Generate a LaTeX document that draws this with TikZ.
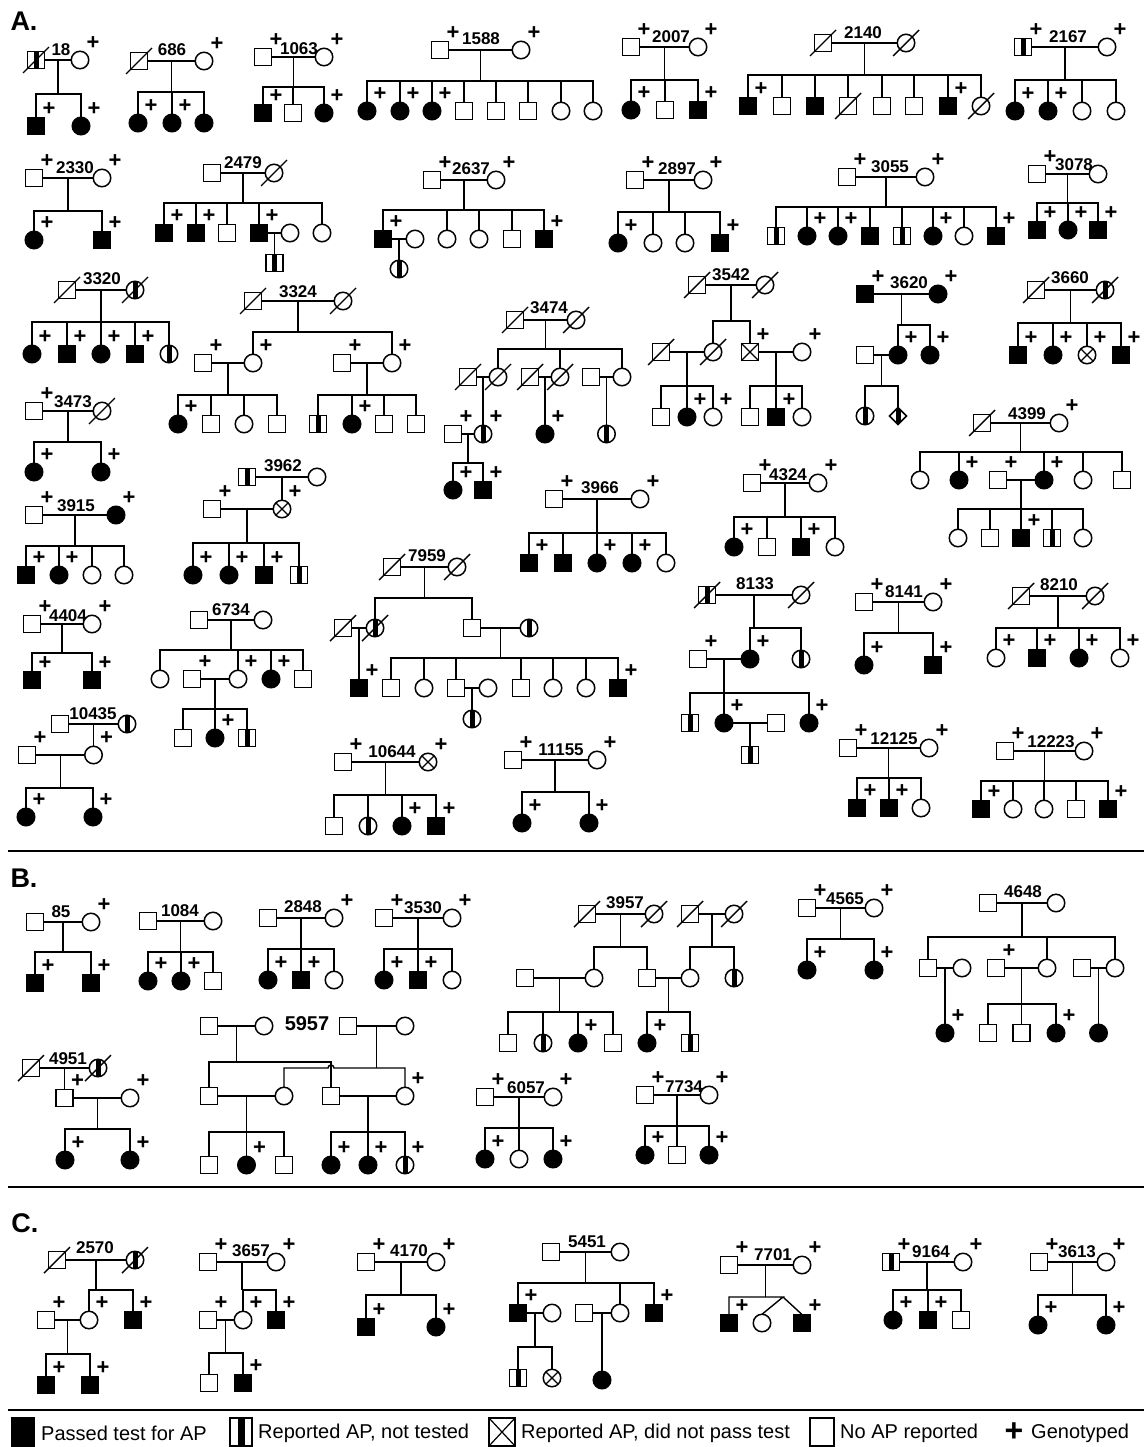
\documentclass[tikz,border=0pt]{standalone}
\usepackage{fontspec}
\setmainfont{Liberation Sans}
\usetikzlibrary{calc, shapes.geometric}

\newcommand\numfont{\fontsize{17}{17}\selectfont\bfseries}
\newcommand\plusfont{\fontsize{22}{22}\selectfont\bfseries}
\newcommand\keyfont{\fontsize{20}{20}\selectfont}

\tikzset{
  sym/.style={draw, line width=1.5pt, inner sep=0pt, outer sep=0pt},
  male/.style={sym, rectangle, minimum size=17pt},
  fem/.style={sym, circle, minimum size=17.5pt},
  dia/.style={sym, diamond, minimum size=17pt},
  aff/.style={fill=black},
  repw/.style={path picture={\fill ([xshift=-#1]path picture bounding box.north) rectangle ([xshift=#1]path picture bounding box.south);}},
  rep/.style={repw=2.5pt},
  cross/.style={path picture={\draw[line width=1.2pt] (path picture bounding box.north west) -- (path picture bounding box.south east) (path picture bounding box.north east) -- (path picture bounding box.south west);}},
  gt/.style={append after command={node[pl] at ([shift={(13pt,17pt)}]\tikzlastnode.center) {+}}},
  pl/.style={font=\plusfont, inner sep=0pt},
  lab/.style={font=\numfont, inner sep=0pt},
  sec/.style={font=\fontsize{27}{27}\selectfont\bfseries, inner sep=0pt},
  keytext/.style={font=\keyfont, anchor=west, inner sep=0pt},
  ln/.style={line width=1.4pt, black},
  dl/.style={line width=1.4pt},
  sep/.style={line width=1.8pt},
}
\newcommand\dead[1]{\draw[dl] (#1.center) ++(-13pt,-13pt) -- ++(26pt,26pt);}
\newcommand\couple[2]{\draw[ln] (#1) -- (#2);}
\newcommand\sibs[3]{%
  \coordinate (tp) at (#1);
  \coordinate (sb) at (0,#2);
  \draw[ln] (tp) -- (tp |- sb);
  \foreach \k in {#3} {\draw[ln] (\k.north) |- (tp |- sb);}}
\newcommand\kin[4]{\couple{#1}{#2}\sibs{$(#1)!.5!(#2)$}{#3}{#4}}

\begin{document}
\begin{tikzpicture}[x=1pt, y=-1pt]
\useasboundingbox (0,0) rectangle (1144,1447);
\fill[white] (0,0) rectangle (1144,1447);

% ================= A =================
\node[sec] (secA) at (24,21) {A.};

% 18
\node[male,rep] (f18) at (36,60) {}; \dead{f18}
\node[fem,gt] (m18) at (80,60) {};
\node[lab] (l18) at (61,50) {18};
\node[male,aff,gt] (c18a) at (36,126) {};
\node[fem,aff,gt] (c18b) at (81,126) {};
\kin{f18}{m18}{94}{c18a,c18b}

% 686
\node[male] (f686) at (139,61) {}; \dead{f686}
\node[fem,gt] (m686) at (204,61) {};
\node[lab] (l686) at (172,50) {686};
\node[fem,aff,gt] (c686a) at (138,123) {};
\node[fem,aff,gt] (c686b) at (172,123) {};
\node[fem,aff] (c686c) at (204,123) {};
\kin{f686}{m686}{92}{c686a,c686b,c686c}

% 1063
\node[male,gt] (f1063) at (263,57) {};
\node[fem,gt] (m1063) at (324,57) {};
\node[lab] (l1063) at (299,49) {1063};
\node[male,aff,gt] (c1063a) at (263,113) {};
\node[male] (c1063b) at (293,113) {};
\node[fem,aff,gt] (c1063c) at (324,113) {};
\kin{f1063}{m1063}{87}{c1063a,c1063b,c1063c}

% 1588
\node[male,gt] (f1588) at (440,50) {};
\node[fem,gt] (m1588) at (521,50) {};
\node[lab] (l1588) at (481,39) {1588};
\node[fem,aff,gt] (c1588a) at (367,111) {};
\node[fem,aff,gt] (c1588b) at (400,111) {};
\node[fem,aff,gt] (c1588c) at (432,111) {};
\node[male] (c1588d) at (464,111) {};
\node[male] (c1588e) at (496,111) {};
\node[male] (c1588f) at (528,111) {};
\node[fem] (c1588g) at (561,111) {};
\node[fem] (c1588h) at (593,111) {};
\kin{f1588}{m1588}{81}{c1588a,c1588b,c1588c,c1588d,c1588e,c1588f,c1588g,c1588h}

% 2007
\node[male,gt] (f2007) at (631,47) {};
\node[fem,gt] (m2007) at (698,47) {};
\node[lab] (l2007) at (671,37) {2007};
\node[fem,aff,gt] (c2007a) at (631,110) {};
\node[male] (c2007b) at (665,110) {};
\node[male,aff,gt] (c2007c) at (698,110) {};
\kin{f2007}{m2007}{80}{c2007a,c2007b,c2007c}

% 2140
\node[male] (f2140) at (823,43) {}; \dead{f2140}
\node[fem] (m2140) at (906,43) {}; \dead{m2140}
\node[lab] (l2140) at (863,33) {2140};
\node[male,aff,gt] (c2140a) at (748,106) {};
\node[male] (c2140b) at (782,106) {};
\node[male,aff] (c2140c) at (815,106) {};
\node[male] (c2140d) at (848,106) {}; \dead{c2140d}
\node[male] (c2140e) at (882,106) {};
\node[male] (c2140f) at (914,106) {};
\node[male,aff,gt] (c2140g) at (948,106) {};
\node[fem] (c2140h) at (981,106) {}; \dead{c2140h}
\kin{f2140}{m2140}{75}{c2140a,c2140b,c2140c,c2140d,c2140e,c2140f,c2140g,c2140h}

% 2167
\node[male,rep,gt] (f2167) at (1023,47) {};
\node[fem,gt] (m2167) at (1107,47) {};
\node[lab] (l2167) at (1068,37) {2167};
\node[fem,aff,gt] (c2167a) at (1015,111) {};
\node[fem,aff,gt] (c2167b) at (1048,111) {};
\node[fem] (c2167c) at (1082,111) {};
\node[fem] (c2167d) at (1116,111) {};
\kin{f2167}{m2167}{80}{c2167a,c2167b,c2167c,c2167d}

% 2330
\node[male,gt] (f2330) at (34,178) {};
\node[fem,gt] (m2330) at (102,178) {};
\node[lab] (l2330) at (75,168) {2330};
\node[fem,aff,gt] (c2330a) at (34,240) {};
\node[male,aff,gt] (c2330b) at (102,240) {};
\kin{f2330}{m2330}{211}{c2330a,c2330b}

% 2479
\node[male] (f2479) at (212,173) {};
\node[fem] (m2479) at (274,173) {}; \dead{m2479}
\node[lab] (l2479) at (243,163) {2479};
\node[male,aff,gt] (c2479a) at (164,233) {};
\node[male,aff,gt] (c2479b) at (196,233) {};
\node[male] (c2479c) at (227,233) {};
\node[male,aff,gt] (c2479d) at (259,233) {};
\node[fem] (s2479) at (290,233) {};
\node[fem] (c2479e) at (322,233) {};
\node[male,rep] (g2479) at (274.5,263) {};
\kin{f2479}{m2479}{203}{c2479a,c2479b,c2479c,c2479d,c2479e}
\kin{c2479d}{s2479}{250}{g2479}

% 2637
\node[male,gt] (f2637) at (432,180) {};
\node[fem,gt] (m2637) at (496,180) {};
\node[lab] (l2637) at (471,169) {2637};
\node[male,aff,gt] (c2637a) at (383,239) {};
\node[fem] (s2637) at (415,239) {};
\node[fem] (c2637b) at (447,239) {};
\node[fem] (c2637c) at (479,239) {};
\node[male] (c2637d) at (512,239) {};
\node[male,aff,gt] (c2637e) at (544,239) {};
\node[fem,rep] (g2637) at (399,269) {};
\kin{f2637}{m2637}{210}{c2637a,c2637b,c2637c,c2637d,c2637e}
\kin{c2637a}{s2637}{255}{g2637}

% 2897
\node[male,gt] (f2897) at (635,180) {};
\node[fem,gt] (m2897) at (703,180) {};
\node[lab] (l2897) at (677,169) {2897};
\node[fem,aff,gt] (c2897a) at (618,243) {};
\node[fem] (c2897b) at (653,243) {};
\node[fem] (c2897c) at (685,243) {};
\node[male,aff,gt] (c2897d) at (720,243) {};
\kin{f2897}{m2897}{212}{c2897a,c2897b,c2897c,c2897d}

% 3055
\node[male,gt] (f3055) at (847,177) {};
\node[fem,gt] (m3055) at (925,177) {};
\node[lab] (l3055) at (890,167) {3055};
\node[male,rep] (c3055a) at (776,236) {};
\node[fem,aff,gt] (c3055b) at (807,236) {};
\node[fem,aff,gt] (c3055c) at (838,236) {};
\node[male,aff] (c3055d) at (870,236) {};
\node[male,rep] (c3055e) at (902,236) {};
\node[fem,aff,gt] (c3055f) at (933,236) {};
\node[fem] (c3055g) at (964,236) {};
\node[male,aff,gt] (c3055h) at (996,236) {};
\kin{f3055}{m3055}{207}{c3055a,c3055b,c3055c,c3055d,c3055e,c3055f,c3055g,c3055h}

% 3078
\node[male,gt] (f3078) at (1037,174) {};
\node[fem] (m3078) at (1098,174) {};
\node[lab] (l3078) at (1074,165) {3078};
\node[male,aff,gt] (c3078a) at (1037,230) {};
\node[fem,aff,gt] (c3078b) at (1068,230) {};
\node[male,aff,gt] (c3078c) at (1098,230) {};
\kin{f3078}{m3078}{203}{c3078a,c3078b,c3078c}

% 3320
\node[male] (f3320) at (67,290) {}; \dead{f3320}
\node[fem,rep] (m3320) at (135,290) {}; \dead{m3320}
\node[lab] (l3320) at (102,279) {3320};
\node[fem,aff,gt] (c3320a) at (32,354) {};
\node[male,aff,gt] (c3320b) at (67,354) {};
\node[fem,aff,gt] (c3320c) at (101,354) {};
\node[male,aff,gt] (c3320d) at (135,354) {};
\node[fem,rep] (c3320e) at (169,354) {};
\kin{f3320}{m3320}{322}{c3320a,c3320b,c3320c,c3320d,c3320e}

% 3324
\node[male] (f3324) at (253,301) {}; \dead{f3324}
\node[fem] (m3324) at (343,301) {}; \dead{m3324}
\node[lab] (l3324) at (298,292) {3324};
\node[fem,gt] (d3324a) at (253,363) {};
\node[fem,gt] (d3324b) at (392,363) {};
\node[male,gt] (h3324a) at (203,363) {};
\node[male,gt] (h3324b) at (342,363) {};
\node[fem,aff,gt] (c3324a) at (178,424) {};
\node[male] (c3324b) at (211,424) {};
\node[fem] (c3324c) at (244,424) {};
\node[male] (c3324d) at (277,424) {};
\node[male,rep] (c3324e) at (318,424) {};
\node[fem,aff,gt] (c3324f) at (352,424) {};
\node[male] (c3324g) at (384,424) {};
\node[male] (c3324h) at (416,424) {};
\kin{f3324}{m3324}{332}{d3324a,d3324b}
\kin{h3324a}{d3324a}{395}{c3324a,c3324b,c3324c,c3324d}
\kin{h3324b}{d3324b}{395}{c3324e,c3324f,c3324g,c3324h}

% 3474
\node[male] (f3474) at (515,320) {}; \dead{f3474}
\node[fem] (m3474) at (576,320) {}; \dead{m3474}
\node[lab] (l3474) at (549,308) {3474};
\node[male] (h3474a) at (468,377) {}; \dead{h3474a}
\node[fem] (w3474a) at (498,377) {}; \dead{w3474a}
\node[male] (h3474b) at (530,377) {}; \dead{h3474b}
\node[fem] (w3474b) at (560,377) {}; \dead{w3474b}
\node[male] (h3474c) at (591,377) {};
\node[fem] (w3474c) at (622,377) {};
\node[male,gt] (s3474) at (453,434) {};
\node[fem,rep,gt] (k3474a) at (483,434) {};
\node[fem,aff,gt] (k3474b) at (545,434) {};
\node[fem,rep] (k3474c) at (606.5,434) {};
\node[fem,aff,gt] (g3474a) at (453,490) {};
\node[male,aff,gt] (g3474b) at (483,490) {};
\kin{f3474}{m3474}{349}{w3474a,w3474b,w3474c}
\kin{h3474a}{w3474a}{410}{k3474a}
\kin{h3474b}{w3474b}{410}{k3474b}
\kin{h3474c}{w3474c}{410}{k3474c}
\kin{s3474}{k3474a}{463}{g3474a,g3474b}

% 3542
\node[male] (f3542) at (697,285) {}; \dead{f3542}
\node[fem] (m3542) at (765,285) {}; \dead{m3542}
\node[lab] (l3542) at (731,275) {3542};
\node[male] (h3542) at (661,352) {}; \dead{h3542}
\node[fem] (d3542) at (713,352) {}; \dead{d3542}
\node[male,cross,gt] (s3542) at (750,352) {};
\node[fem,gt] (w3542) at (802,352) {};
\node[male] (c3542a) at (661,417) {};
\node[fem,aff,gt] (c3542b) at (687,417) {};
\node[fem,gt] (c3542c) at (713,417) {};
\node[male] (c3542d) at (750,417) {};
\node[male,aff,gt] (c3542e) at (776,417) {};
\node[fem] (c3542f) at (802,417) {};
\kin{f3542}{m3542}{321}{d3542,s3542}
\kin{h3542}{d3542}{386}{c3542a,c3542b,c3542c}
\kin{s3542}{w3542}{386}{c3542d,c3542e,c3542f}

% 3620
\node[male,aff,gt] (f3620) at (865,294) {};
\node[fem,aff,gt] (m3620) at (938,294) {};
\node[lab] (l3620) at (909,283) {3620};
\node[male] (h3620) at (865,355) {};
\node[fem,aff,gt] (d3620a) at (898,355) {};
\node[fem,aff,gt] (d3620b) at (930,355) {};
\node[fem,rep] (c3620a) at (865,416) {};
\node[dia,rep] (c3620b) at (898,416) {};
\kin{f3620}{m3620}{325}{d3620a,d3620b}
\kin{h3620}{d3620a}{386}{c3620a,c3620b}

% 3660
\node[male] (f3660) at (1036,290) {}; \dead{f3660}
\node[fem,rep] (m3660) at (1105,290) {}; \dead{m3660}
\node[lab] (l3660) at (1070,278) {3660};
\node[male,aff,gt] (c3660a) at (1018,355) {};
\node[fem,aff,gt] (c3660b) at (1053,355) {};
\node[fem,cross,gt] (c3660c) at (1087,355) {};
\node[male,aff,gt] (c3660d) at (1121,355) {};
\kin{f3660}{m3660}{323}{c3660a,c3660b,c3660c,c3660d}

% 3473
\node[male,gt] (f3473) at (34,411) {};
\node[fem] (m3473) at (102,411) {}; \dead{m3473}
\node[lab] (l3473) at (73,402) {3473};
\node[fem,aff,gt] (c3473a) at (34,472) {};
\node[fem,aff,gt] (c3473b) at (101,472) {};
\kin{f3473}{m3473}{442}{c3473a,c3473b}

% 3915
\node[male,gt] (f3915) at (34,515) {};
\node[fem,aff,gt] (m3915) at (116,515) {};
\node[lab] (l3915) at (76,506) {3915};
\node[male,aff,gt] (c3915a) at (26,575) {};
\node[fem,aff,gt] (c3915b) at (59,575) {};
\node[fem] (c3915c) at (92,575) {};
\node[fem] (c3915d) at (124,575) {};
\kin{f3915}{m3915}{546}{c3915a,c3915b,c3915c,c3915d}

% 3962
\node[male,rep] (f3962) at (247,477) {};
\node[fem] (m3962) at (317,477) {};
\node[lab] (l3962) at (283,466) {3962};
\node[male,gt] (h3962) at (212,509) {};
\node[fem,cross,gt] (d3962) at (282,509) {};
\node[fem,aff,gt] (c3962a) at (193,575) {};
\node[fem,aff,gt] (c3962b) at (229,575) {};
\node[male,aff,gt] (c3962c) at (264,575) {};
\node[male,rep] (c3962d) at (299,575) {};
\kin{f3962}{m3962}{495}{d3962}
\kin{h3962}{d3962}{543}{c3962a,c3962b,c3962c,c3962d}

% 3966
\node[male,gt] (f3966) at (554,499) {};
\node[fem,gt] (m3966) at (640,499) {};
\node[lab] (l3966) at (600,488) {3966};
\node[male,aff,gt] (c3966a) at (529,563) {};
\node[male,aff] (c3966b) at (563,563) {};
\node[fem,aff,gt] (c3966c) at (597,563) {};
\node[fem,aff,gt] (c3966d) at (632,563) {};
\node[fem] (c3966e) at (666,563) {};
\kin{f3966}{m3966}{533}{c3966a,c3966b,c3966c,c3966d,c3966e}

% 4324
\node[male,gt] (f4324) at (752,483) {};
\node[fem,gt] (m4324) at (818,483) {};
\node[lab] (l4324) at (788,475) {4324};
\node[fem,aff,gt] (c4324a) at (734,547) {};
\node[male] (c4324b) at (767,547) {};
\node[male,aff,gt] (c4324c) at (801,547) {};
\node[fem] (c4324d) at (835,547) {};
\kin{f4324}{m4324}{517}{c4324a,c4324b,c4324c,c4324d}

% 4399
\node[male] (f4399) at (982,423) {}; \dead{f4399}
\node[fem,gt] (m4399) at (1059,423) {};
\node[lab] (l4399) at (1027,414) {4399};
\node[fem] (c4399a) at (920,480) {};
\node[fem,aff,gt] (c4399b) at (959,480) {};
\node[male,gt] (s4399) at (998,480) {};
\node[fem,aff,gt] (c4399c) at (1044,480) {};
\node[fem] (c4399d) at (1083,480) {};
\node[male] (c4399e) at (1122,480) {};
\node[fem] (g4399a) at (958,538) {};
\node[male] (g4399b) at (990,538) {};
\node[male,aff,gt] (g4399c) at (1021,538) {};
\node[male,rep] (g4399d) at (1052,538) {};
\node[fem] (g4399e) at (1083,538) {};
\kin{f4399}{m4399}{452}{c4399a,c4399b,c4399c,c4399d,c4399e}
\kin{s4399}{c4399c}{509}{g4399a,g4399b,g4399c,g4399d,g4399e}

% 4404
\node[male,gt] (f4404) at (32,624) {};
\node[fem,gt] (m4404) at (92,624) {};
\node[lab] (l4404) at (68,616) {4404};
\node[male,aff,gt] (c4404a) at (32,680) {};
\node[male,aff,gt] (c4404b) at (92,680) {};
\kin{f4404}{m4404}{653}{c4404a,c4404b}

% 6734
\node[male] (f6734) at (199,620) {};
\node[fem] (m6734) at (263,620) {};
\node[lab] (l6734) at (231,610) {6734};
\node[fem] (c6734a) at (160,679) {};
\node[male,gt] (s6734) at (192,679) {};
\node[fem,gt] (c6734b) at (238,679) {};
\node[fem,aff,gt] (c6734c) at (271,679) {};
\node[male] (c6734d) at (303,679) {};
\node[male] (g6734a) at (183,738) {};
\node[fem,aff,gt] (g6734b) at (215,738) {};
\node[male,rep] (g6734c) at (247,738) {};
\kin{f6734}{m6734}{650}{c6734a,c6734b,c6734c,c6734d}
\kin{s6734}{c6734b}{709}{g6734a,g6734b,g6734c}

% 10435
\node[male] (f10435) at (60,724) {};
\node[fem,rep] (m10435) at (127,724) {};
\node[lab] (l10435) at (93,714) {10435};
\node[male,gt] (h10435) at (27,755) {};
\node[fem,gt] (d10435) at (93.5,755) {};
\node[fem,aff,gt] (c10435a) at (26,817) {};
\node[fem,aff,gt] (c10435b) at (93,817) {};
\kin{f10435}{m10435}{740}{d10435}
\kin{h10435}{d10435}{788}{c10435a,c10435b}

% 7959
\node[male] (f7959) at (392,567) {}; \dead{f7959}
\node[fem] (m7959) at (457,567) {}; \dead{m7959}
\node[lab] (l7959) at (427,556) {7959};
\node[male] (h7959) at (343,628) {}; \dead{h7959}
\node[fem,rep] (d7959) at (375,628) {}; \dead{d7959}
\node[male] (s7959) at (472,628) {};
\node[fem,rep] (w7959) at (529,628) {};
\node[male,aff,gt] (k7959) at (359,688) {};
\node[male] (c7959a) at (391,688) {};
\node[fem] (c7959b) at (424,688) {};
\node[male] (c7959c) at (456,688) {};
\node[fem] (p7959) at (488,688) {};
\node[male] (c7959d) at (521,688) {};
\node[fem] (c7959e) at (553,688) {};
\node[fem] (c7959f) at (586,688) {};
\node[male,aff,gt] (c7959g) at (618,688) {};
\node[fem,rep] (g7959) at (472,719) {};
\kin{f7959}{m7959}{598}{d7959,s7959}
\kin{h7959}{d7959}{660}{k7959}
\kin{s7959}{w7959}{658}{c7959a,c7959b,c7959c,c7959d,c7959e,c7959f,c7959g}
\kin{c7959c}{p7959}{705}{g7959}

% 10644
\node[male,gt] (f10644) at (343,762) {};
\node[fem,cross,gt] (m10644) at (428,762) {};
\node[lab] (l10644) at (392,752) {10644};
\node[male] (c10644a) at (334,826) {};
\node[fem,rep] (c10644b) at (368,826) {};
\node[fem,aff,gt] (c10644c) at (402,826) {};
\node[male,aff,gt] (c10644d) at (436,826) {};
\kin{f10644}{m10644}{795}{c10644a,c10644b,c10644c,c10644d}

% 11155
\node[male,gt] (f11155) at (513,760) {};
\node[fem,gt] (m11155) at (597,760) {};
\node[lab] (l11155) at (561,750) {11155};
\node[fem,aff,gt] (c11155a) at (522,823) {};
\node[fem,aff,gt] (c11155b) at (589,823) {};
\kin{f11155}{m11155}{792}{c11155a,c11155b}

% 8133
\node[male,rep] (f8133) at (707,595) {}; \dead{f8133}
\node[fem] (m8133) at (801,595) {}; \dead{m8133}
\node[lab] (l8133) at (755,584) {8133};
\node[male,gt] (h8133) at (698,659) {};
\node[fem,aff,gt] (d8133a) at (750,659) {};
\node[fem,rep] (d8133b) at (801,659) {};
\node[male,rep] (c8133a) at (690,723) {};
\node[fem,aff,gt] (c8133b) at (724,723) {};
\node[male] (s8133) at (776,723) {};
\node[fem,aff,gt] (c8133c) at (809,723) {};
\node[male,rep] (g8133) at (750,755) {};
\kin{f8133}{m8133}{628}{d8133a,d8133b}
\kin{h8133}{d8133a}{693}{c8133a,c8133b,c8133c}
\kin{c8133b}{s8133}{740}{g8133}

% 8141
\node[male,gt] (f8141) at (864,602) {};
\node[fem,gt] (m8141) at (933,602) {};
\node[lab] (l8141) at (904,592) {8141};
\node[fem,aff,gt] (c8141a) at (864,665) {};
\node[male,aff,gt] (c8141b) at (933,665) {};
\kin{f8141}{m8141}{633}{c8141a,c8141b}

% 8210
\node[male] (f8210) at (1021,596) {}; \dead{f8210}
\node[fem] (m8210) at (1095,596) {}; \dead{m8210}
\node[lab] (l8210) at (1059,585) {8210};
\node[fem,gt] (c8210a) at (996,658) {};
\node[male,aff,gt] (c8210b) at (1037,658) {};
\node[fem,aff,gt] (c8210c) at (1079,658) {};
\node[fem,gt] (c8210d) at (1120,658) {};
\kin{f8210}{m8210}{628}{c8210a,c8210b,c8210c,c8210d}

% 12125
\node[male,gt] (f12125) at (848,748) {};
\node[fem,gt] (m12125) at (929,748) {};
\node[lab] (l12125) at (894,739) {12125};
\node[male,aff,gt] (c12125a) at (857,808) {};
\node[male,aff,gt] (c12125b) at (889,808) {};
\node[fem] (c12125c) at (921,808) {};
\kin{f12125}{m12125}{778}{c12125a,c12125b,c12125c}

% 12223
\node[male,gt] (f12223) at (1005,751) {};
\node[fem,gt] (m12223) at (1084,751) {};
\node[lab] (l12223) at (1051,742) {12223};
\node[male,aff,gt] (c12223a) at (981,809) {};
\node[fem] (c12223b) at (1013,809) {};
\node[fem] (c12223c) at (1044,809) {};
\node[male] (c12223d) at (1076,809) {};
\node[male,aff,gt] (c12223e) at (1108,809) {};
\kin{f12223}{m12223}{781}{c12223a,c12223b,c12223c,c12223d,c12223e}

\draw[sep] (8,851) -- (1144,851);

% ================= B =================
\node[sec] (secB) at (24,878) {B.};

% 85
\node[male] (f85) at (35,922) {};
\node[fem,gt] (m85) at (91,922) {};
\node[lab] (l85) at (61,912) {85};
\node[male,aff,gt] (c85a) at (35,983) {};
\node[male,aff,gt] (c85b) at (91,983) {};
\kin{f85}{m85}{952}{c85a,c85b}

% 1084
\node[male] (f1084) at (148,921) {};
\node[fem] (m1084) at (213,921) {};
\node[lab] (l1084) at (180,911) {1084};
\node[fem,aff,gt] (c1084a) at (148,981) {};
\node[fem,aff,gt] (c1084b) at (181,981) {};
\node[male] (c1084c) at (213,981) {};
\kin{f1084}{m1084}{952}{c1084a,c1084b,c1084c}

% 2848
\node[male] (f2848) at (268,918) {};
\node[fem,gt] (m2848) at (334,918) {};
\node[lab] (l2848) at (303,907) {2848};
\node[fem,aff,gt] (c2848a) at (268,980) {};
\node[male,aff,gt] (c2848b) at (301,980) {};
\node[fem] (c2848c) at (334,980) {};
\kin{f2848}{m2848}{949}{c2848a,c2848b,c2848c}

% 3530
\node[male,gt] (f3530) at (384,918) {};
\node[fem,gt] (m3530) at (452,918) {};
\node[lab] (l3530) at (423,908) {3530};
\node[fem,aff,gt] (c3530a) at (384,980) {};
\node[male,aff,gt] (c3530b) at (418,980) {};
\node[fem] (c3530c) at (452,980) {};
\kin{f3530}{m3530}{949}{c3530a,c3530b,c3530c}

% 3957
\node[male] (f3957a) at (587,914) {}; \dead{f3957a}
\node[fem] (m3957a) at (654,914) {}; \dead{m3957a}
\node[male] (f3957b) at (690,914) {}; \dead{f3957b}
\node[fem] (m3957b) at (734,914) {}; \dead{m3957b}
\node[lab] (l3957) at (625,903) {3957};
\node[male] (h3957) at (525,978) {};
\node[fem] (d3957a) at (594,978) {};
\node[male] (s3957a) at (647,978) {};
\node[fem] (d3957b) at (690,978) {};
\node[fem,rep] (d3957c) at (734,978) {};
\node[male] (c3957a) at (508,1043) {};
\node[fem,rep] (c3957b) at (543,1043) {};
\node[fem,aff,gt] (c3957c) at (578,1043) {};
\node[male] (c3957d) at (613,1043) {};
\node[fem,aff,gt] (c3957e) at (647,1043) {};
\node[male,rep] (c3957f) at (690,1043) {};
\kin{f3957a}{m3957a}{947}{d3957a,s3957a}
\kin{f3957b}{m3957b}{947}{d3957b,d3957c}
\kin{h3957}{d3957a}{1012}{c3957a,c3957b,c3957c,c3957d}
\kin{s3957a}{d3957b}{1012}{c3957e,c3957f}

% 4565
\node[male,gt] (f4565) at (807,908) {};
\node[fem,gt] (m4565) at (874,908) {};
\node[lab] (l4565) at (845,899) {4565};
\node[fem,aff,gt] (c4565a) at (807,970) {};
\node[fem,aff,gt] (c4565b) at (874,970) {};
\kin{f4565}{m4565}{939}{c4565a,c4565b}

% 4648
\node[male] (f4648) at (988,903) {};
\node[fem] (m4648) at (1056,903) {};
\node[lab] (l4648) at (1023,892) {4648};
\node[male] (c4648a) at (928,968) {};
\node[fem] (s4648a) at (962,968) {};
\node[male,gt] (s4648b) at (996,968) {};
\node[fem] (c4648b) at (1047,968) {};
\node[male] (s4648c) at (1082,968) {};
\node[fem] (c4648c) at (1115,968) {};
\node[fem,aff,gt] (g4648a) at (945,1033) {};
\node[male] (g4648b) at (988,1033) {};
\node[male] (g4648c) at (1021.5,1033) {};
\node[fem,aff,gt] (g4648d) at (1056,1033) {};
\node[fem,aff] (g4648e) at (1098.5,1033) {};
\kin{f4648}{m4648}{937}{c4648a,c4648b,c4648c}
\kin{c4648a}{s4648a}{1000}{g4648a}
\kin{s4648b}{c4648b}{1004}{g4648b,g4648c,g4648d}
\kin{s4648c}{c4648c}{1000}{g4648e}

% 4951
\node[male] (f4951) at (31,1068) {}; \dead{f4951}
\node[fem,rep] (m4951) at (98,1068) {}; \dead{m4951}
\node[lab] (l4951) at (68,1059) {4951};
\node[male,gt] (d4951) at (64.5,1098) {};
\node[fem,gt] (w4951) at (130,1098) {};
\node[fem,aff,gt] (c4951a) at (65,1160) {};
\node[fem,aff,gt] (c4951b) at (130,1160) {};
\kin{f4951}{m4951}{1085}{d4951}
\kin{d4951}{w4951}{1129}{c4951a,c4951b}

% 5957
\node[male] (f5957a) at (209,1026) {};
\node[fem] (m5957a) at (264,1026) {};
\node[lab, font=\fontsize{20}{20}\selectfont\bfseries] (l5957) at (307,1024) {5957};
\node[male] (f5957b) at (348,1026) {};
\node[fem] (m5957b) at (405,1026) {};
\node[male] (x5957a) at (209,1096) {};
\node[fem] (y5957a) at (284,1096) {};
\node[male] (x5957b) at (331,1096) {};
\node[fem,gt] (y5957b) at (405,1096) {};
\node[male] (c5957a) at (209,1165) {};
\node[fem,aff,gt] (c5957b) at (246.5,1165) {};
\node[male] (c5957c) at (284,1165) {};
\node[fem,aff,gt] (c5957d) at (331,1165) {};
\node[fem,aff,gt] (c5957e) at (368,1165) {};
\node[fem,rep,gt] (c5957f) at (405,1165) {};
\kin{f5957a}{m5957a}{1062}{x5957a,x5957b}
\couple{f5957b}{m5957b}
\coordinate (t5957) at ($(f5957b)!.5!(m5957b)$);
\coordinate (h5957) at (0,1068);
\draw[ln] (t5957) -- (t5957 |- h5957);
\draw[ln] (y5957a.north) |- (328,1068) arc[start angle=180, end angle=0, radius=3pt] -| (y5957b.north);
\kin{x5957a}{y5957a}{1132}{c5957a,c5957b,c5957c}
\kin{x5957b}{y5957b}{1132}{c5957d,c5957e,c5957f}

% 6057
\node[male,gt] (f6057) at (485,1097) {};
\node[fem,gt] (m6057) at (553,1097) {};
\node[lab] (l6057) at (526,1088) {6057};
\node[fem,aff,gt] (c6057a) at (485,1159) {};
\node[fem] (c6057b) at (519,1159) {};
\node[fem,aff,gt] (c6057c) at (553,1159) {};
\kin{f6057}{m6057}{1128}{c6057a,c6057b,c6057c}

% 7734
\node[male,gt] (f7734) at (645,1095) {};
\node[fem,gt] (m7734) at (709,1095) {};
\node[lab] (l7734) at (684,1087) {7734};
\node[fem,aff,gt] (c7734a) at (645,1155) {};
\node[male] (c7734b) at (677,1155) {};
\node[fem,aff,gt] (c7734c) at (709,1155) {};
\kin{f7734}{m7734}{1126}{c7734a,c7734b,c7734c}

\draw[sep] (8,1187) -- (1144,1187);

% ================= C =================
\node[sec] (secC) at (25,1223) {C.};

% 2570
\node[male] (f2570) at (57,1260) {}; \dead{f2570}
\node[fem,rep] (m2570) at (135,1260) {}; \dead{m2570}
\node[lab] (l2570) at (95,1248) {2570};
\node[male,gt] (h2570) at (46,1320) {};
\node[fem,gt] (d2570) at (89,1320) {};
\node[male,aff,gt] (s2570) at (133,1320) {};
\node[male,aff,gt] (c2570a) at (46,1385) {};
\node[male,aff,gt] (c2570b) at (90,1385) {};
\kin{f2570}{m2570}{1290}{d2570,s2570}
\kin{h2570}{d2570}{1354}{c2570a,c2570b}

% 3657
\node[male,gt] (f3657) at (208,1262) {};
\node[fem,gt] (m3657) at (276,1262) {};
\node[lab] (l3657) at (251,1251) {3657};
\node[male,gt] (h3657) at (208,1320) {};
\node[fem,gt] (d3657) at (243,1320) {};
\node[male,aff,gt] (s3657) at (276,1320) {};
\node[male] (c3657a) at (209,1383) {};
\node[male,aff,gt] (c3657b) at (243,1383) {};
\kin{f3657}{m3657}{1290}{d3657,s3657}
\kin{h3657}{d3657}{1353}{c3657a,c3657b}

% 4170
\node[male,gt] (f4170) at (366,1262) {};
\node[fem,gt] (m4170) at (436,1262) {};
\node[lab] (l4170) at (409,1251) {4170};
\node[male,aff,gt] (c4170a) at (366,1327) {};
\node[fem,aff,gt] (c4170b) at (436,1327) {};
\kin{f4170}{m4170}{1295}{c4170a,c4170b}

% 5451
\node[male] (f5451) at (551,1252) {};
\node[fem] (m5451) at (620,1252) {};
\node[lab] (l5451) at (587,1242) {5451};
\node[male,aff,gt] (c5451a) at (518,1313) {};
\node[fem] (s5451a) at (552,1313) {};
\node[male] (s5451b) at (584,1313) {};
\node[fem] (c5451b) at (620,1313) {};
\node[male,aff,gt] (c5451c) at (654,1313) {};
\node[male,rep] (g5451a) at (518,1378) {};
\node[fem,cross] (g5451b) at (552,1378) {};
\node[fem,aff] (g5451c) at (602,1380) {};
\kin{f5451}{m5451}{1283}{c5451a,c5451b,c5451c}
\kin{c5451a}{s5451a}{1347}{g5451a,g5451b}
\kin{s5451b}{c5451b}{1350}{g5451c}

% 7701
\node[male,gt] (f7701) at (729,1265) {};
\node[fem,gt] (m7701) at (802,1265) {};
\node[lab] (l7701) at (773,1255) {7701};
\node[male,aff,gt] (c7701a) at (729,1323) {};
\node[fem] (c7701b) at (762,1323) {};
\node[male,aff,gt] (c7701c) at (802,1323) {};
\couple{f7701}{m7701}
\coordinate (t7701) at ($(f7701)!.5!(m7701)$);
\coordinate (tw7701) at (783,1297);
\draw[ln] (t7701) -- (t7701 |- tw7701);
\draw[ln] (c7701a.north) |- (tw7701) -- (c7701b.north);
\draw[ln] (tw7701) -- (c7701c.north);

% 9164
\node[male,rep,gt] (f9164) at (891,1262) {};
\node[fem,gt] (m9164) at (963,1262) {};
\node[lab] (l9164) at (931,1252) {9164};
\node[fem,aff,gt] (c9164a) at (893,1320) {};
\node[male,aff,gt] (c9164b) at (928,1320) {};
\node[male] (c9164c) at (961,1320) {};
\kin{f9164}{m9164}{1290}{c9164a,c9164b,c9164c}

% 3613
\node[male,gt] (f3613) at (1039,1262) {};
\node[fem,gt] (m3613) at (1106,1262) {};
\node[lab] (l3613) at (1077,1252) {3613};
\node[fem,aff,gt] (c3613a) at (1038,1325) {};
\node[fem,aff,gt] (c3613b) at (1106,1325) {};
\kin{f3613}{m3613}{1295}{c3613a,c3613b}

\draw[sep] (8,1410) -- (1144,1410);

% ================= key =================
\node[male,aff,minimum width=22pt,minimum height=28pt] (kaff) at (23,1432) {};
\node[keytext] (taff) at (41,1433) {Passed test for AP};
\node[male,repw=3.5pt,minimum width=22pt,minimum height=28pt] (krep) at (241,1432) {};
\node[keytext] (trep) at (258,1433) {Reported AP, not tested};
\node[male,cross,minimum width=26pt,minimum height=28pt] (kcross) at (502,1432) {};
\node[keytext] (tcross) at (521,1433) {Reported AP, did not pass test};
\node[male,minimum width=24pt,minimum height=28pt] (knone) at (822,1432) {};
\node[keytext] (tnone) at (840,1433) {No AP reported};
\node[font=\fontsize{32}{32}\selectfont\bfseries, inner sep=0pt] (kgt) at (1014,1432) {+};
\node[keytext] (tgt) at (1031,1433) {Genotyped};
\end{tikzpicture}
\end{document}
